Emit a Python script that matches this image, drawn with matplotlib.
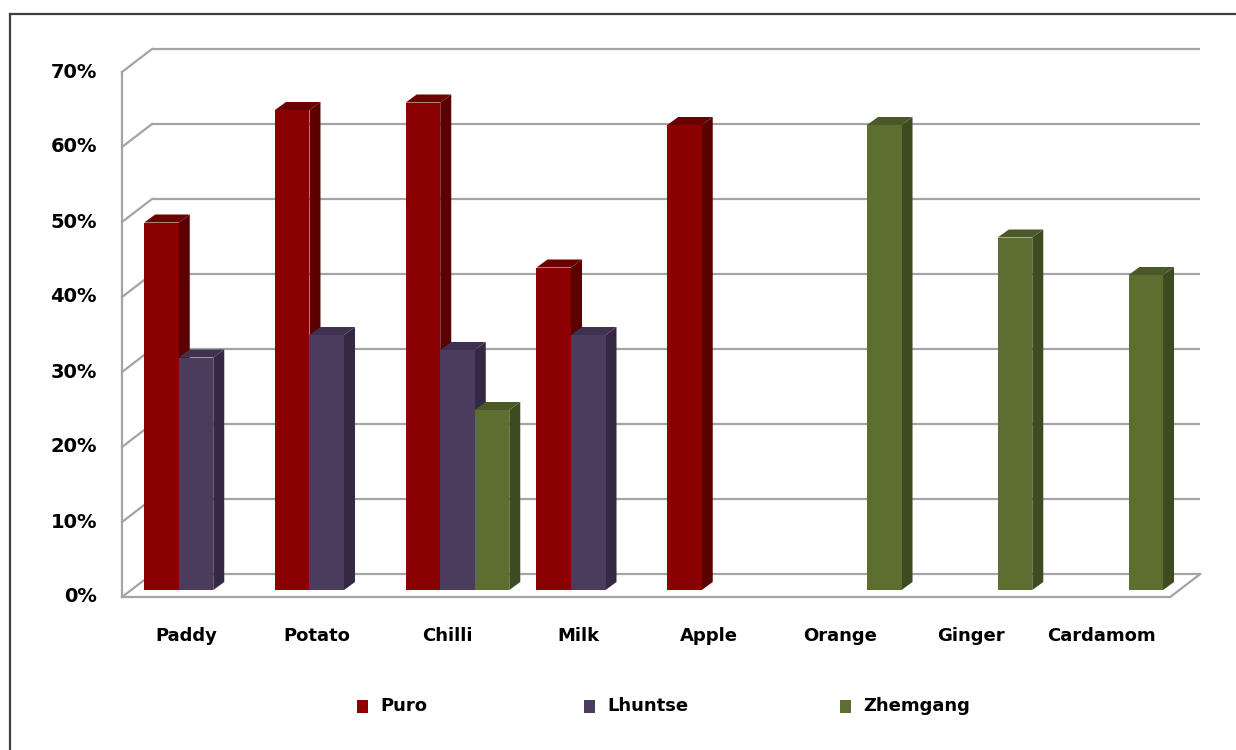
import numpy as np
import matplotlib.pyplot as plt
from matplotlib.patches import Polygon, Rectangle

plt.rcParams['font.family'] = ['DejaVu Sans']

# share of households per commodity and district (%)
categories = ['Paddy', 'Potato', 'Chilli', 'Milk', 'Apple', 'Orange', 'Ginger', 'Cardamom']
puro = [49, 64, 65, 43, 62, 0, 0, 0]
lhuntse = [31, 34, 32, 34, 0, 0, 0, 0]
zhemgang = [0, 0, 24, 0, 0, 62, 47, 42]
series_names = ['Puro', 'Lhuntse', 'Zhemgang']
y_ticks = [0, 10, 20, 30, 40, 50, 60, 70]

# face colours: front, side, top
colors = {
    'Puro': ('#8b0000', '#5a0000', '#6c0000'),
    'Lhuntse': ('#4b3c5d', '#342842', '#3f3150'),
    'Zhemgang': ('#5d6e31', '#3d4b20', '#4a5927'),
}

# data units per screen pixel (x: category units, y: percent)
PX = 1 / 130.75
PY = 1 / 7.5

fig = plt.figure(figsize=(12.36, 7.5), dpi=100)
ax = fig.add_axes([0, 0, 1, 1])
ax.set_xlim(-196 * PX, (1236 - 196) * PX)
ax.set_ylim(-(750 - 590) * PY, 590 * PY)
ax.axis('off')


def px(x, y):
    """pixel (from top-left) -> data coords"""
    return (x - 196) * PX, (590 - y) * PY


# wall / floor geometry relative to the bar plane
front_dx, front_dy = -9 * PX, -7 * PY
back_dx, back_dy = 21 * PX, 16 * PY
x_left = -0.497
x_right = 7.52
grid_c = '#a4a4a4'
grid_lw = 1.6

for t in y_ticks:
    # back wall gridline
    ax.plot([x_left + back_dx, x_right + back_dx], [t + back_dy, t + back_dy],
            color=grid_c, lw=grid_lw, solid_capstyle='butt', zorder=1)
    # left side wall
    ax.plot([x_left + front_dx, x_left + back_dx], [t + front_dy, t + back_dy],
            color=grid_c, lw=grid_lw, zorder=1)
    ax.text(x_left + front_dx - 25 * PX, t + front_dy, f'{t}%', ha='right', va='center',
            fontsize=14, fontweight='bold')

# front-left edge and floor outline
ax.plot([x_left + front_dx] * 2, [front_dy, 70 + front_dy], color=grid_c, lw=grid_lw, zorder=1)
ax.plot([x_left + front_dx, x_right + front_dx, x_right + back_dx],
        [front_dy, front_dy, back_dy], color=grid_c, lw=grid_lw, zorder=1)

# 3-D looking bars
w = 0.264
ddx, ddy = 11 * PX, 8 * PY
values = [puro, lhuntse, zhemgang]
z = 2
for i in range(len(categories)):
    for j, name in enumerate(series_names):
        v = values[j][i]
        if v <= 0:
            continue
        front, side, top = colors[name]
        xc = i + (j - 1) * w
        x0, x1 = xc - w / 2, xc + w / 2
        ax.add_patch(Polygon([(x1, 0), (x1 + ddx, ddy), (x1 + ddx, v + ddy), (x1, v)],
                             closed=True, facecolor=side, edgecolor='none', zorder=z))
        ax.add_patch(Polygon([(x0, v), (x1, v), (x1 + ddx, v + ddy), (x0 + ddx, v + ddy)],
                             closed=True, facecolor=top, edgecolor='none', zorder=z))
        ax.bar(xc, v, width=w, color=front, edgecolor='none', zorder=z + 1)
        z += 2

# category labels on the front edge
for i, cat in enumerate(categories):
    ax.text(i - 0.076, -6.1, cat, ha='center', va='center', fontsize=13, fontweight='bold')

# legend
legend_x = [357, 584, 840]
for name, lx in zip(series_names, legend_x):
    x0, y0 = px(lx, 713)
    ax.add_patch(Rectangle((x0, y0), 11 * PX, 13 * PY, facecolor=colors[name][0],
                           edgecolor='none', zorder=5))
    tx, ty = px(lx + 23, 706)
    ax.text(tx, ty, name, ha='left', va='center', fontsize=13, fontweight='bold')

# outer chart border (runs off the right and bottom edges)
bx, by = px(10, 14)
ex, ey = px(1240, 752)
ax.plot([bx, ex], [by, by], color='#404040', lw=1.6, zorder=6)
ax.plot([bx, bx], [by, ey], color='#404040', lw=1.6, zorder=6)

fig.savefig('out.png', dpi=100)
plt.close(fig)
